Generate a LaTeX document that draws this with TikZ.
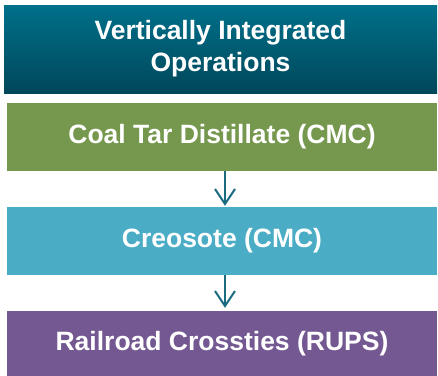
\documentclass[tikz,border=0pt]{standalone}
\usepackage{fontspec}
\setmainfont{Liberation Sans}
\usetikzlibrary{positioning}
\usetikzlibrary{arrows.meta}
\definecolor{headteal}{HTML}{00708A}
\definecolor{headdark}{HTML}{00475A}
\definecolor{coalgreen}{HTML}{76984E}
\definecolor{creoblue}{HTML}{4BACC6}
\definecolor{tiepurple}{HTML}{735891}
\definecolor{arrowteal}{HTML}{1B6B80}
\tikzset{
    stagebox/.style = {rectangle, minimum width = 430pt, minimum height = 68pt, inner sep=0pt,
        text=white, align=center, font=\bfseries\fontsize{26.5}{32}\selectfont},
    headbox/.style = {stagebox, minimum width = 433pt, minimum height = 88pt,
        top color=headteal, middle color=headteal, bottom color=headdark},
    edgen/.style = {-{Straight Barb[length=15pt,width=20pt]}, line width=2pt, arrowteal},
}
\begin{document}
\begin{tikzpicture}[x=1pt,y=-1pt]
\useasboundingbox (0,0) rectangle (438,375);

\node[headbox] at (220.5, 49) (head) {Vertically Integrated\\Operations};
\node[stagebox, fill=coalgreen] at (222, 137) (coal) {Coal Tar Distillate (CMC)};
\node[stagebox, fill=creoblue] at (222, 241) (creo) {Creosote (CMC)};
\node[stagebox, fill=tiepurple, minimum height=66pt] at (222, 344) (ties) {Railroad Crossties (RUPS)};
%
\draw[edgen] ([xshift=3pt]coal.south) -- ([xshift=3pt,yshift=1pt]creo.north);
\draw[edgen] ([xshift=3pt]creo.south) -- ([xshift=3pt,yshift=3pt]ties.north);

\end{tikzpicture}
\end{document}
